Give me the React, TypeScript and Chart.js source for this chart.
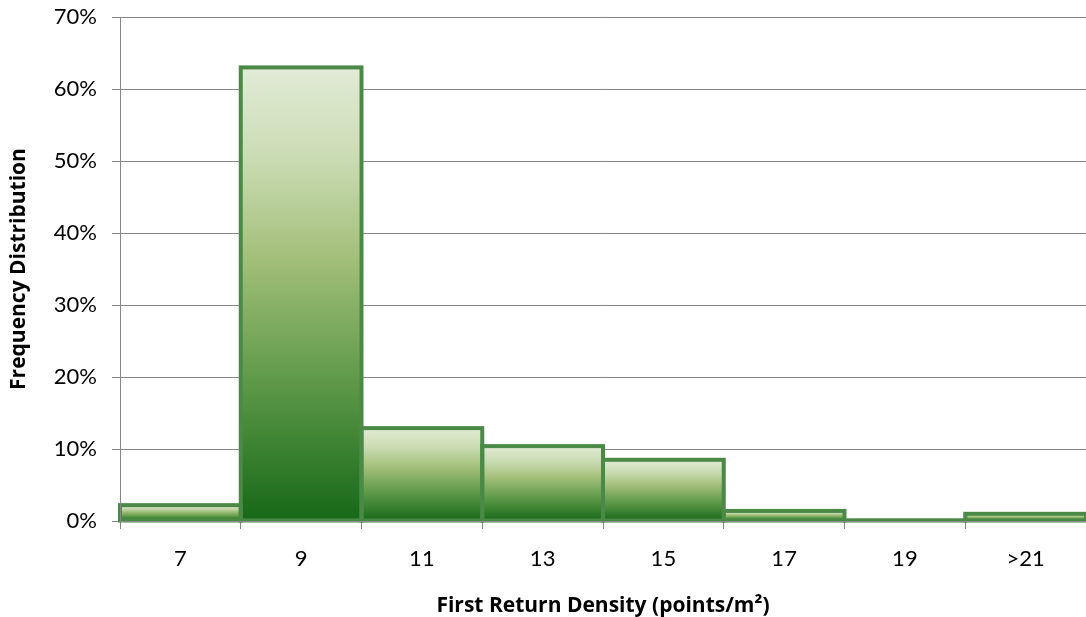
import React, { useEffect, useRef } from 'react';
import { Chart, registerables } from 'chart.js';

Chart.register(...registerables);

const categories: string[] = ['7', '9', '11', '13', '15', '17', '19', '>21'];
const frequencies: number[] = [2.2, 63, 12.9, 10.4, 8.5, 1.4, 0.1, 1.0];
const yMin = 0;
const yMax = 70;
const yStep = 10;
const xTitle = 'First Return Density (points/m²)';
const yTitle = 'Frequency Distribution';

const BORDER = '#4a8a46';
const GRID = '#868686';

const outlinePlugin = {
  id: 'barOutline',
  afterDatasetsDraw(chart: any) {
    const meta = chart.getDatasetMeta(0);
    const ctx = chart.ctx as CanvasRenderingContext2D;
    ctx.save();
    ctx.strokeStyle = BORDER;
    ctx.lineWidth = 4;
    ctx.lineJoin = 'miter';
    meta.data.forEach((el: any) => {
      const { x, y, base, width } = el.getProps(['x', 'y', 'base', 'width'], true);
      ctx.strokeRect(x - width / 2, y, width, base - y);
    });
    ctx.restore();
  },
};

export default function App() {
  const ref = useRef<HTMLCanvasElement | null>(null);

  useEffect(() => {
    if (!ref.current) return;
    const chart = new Chart(ref.current, {
      type: 'bar',
      data: {
        labels: categories,
        datasets: [
          {
            data: frequencies,
            borderWidth: 0,
            barPercentage: 1,
            categoryPercentage: 1,
            backgroundColor: (c: any) => {
              const ch = c.chart;
              const ys = ch.scales && ch.scales.y;
              if (c.type !== 'data' || !ys) return '#8ab060';
              const top = ys.getPixelForValue(c.raw as number);
              const base = ys.getPixelForValue(0);
              if (!isFinite(top) || !isFinite(base)) return '#8ab060';
              const g = ch.ctx.createLinearGradient(0, top, 0, Math.max(base, top + 1));
              g.addColorStop(0, '#e2ebd6');
              g.addColorStop(0.2, '#cadcb3');
              g.addColorStop(0.42, '#a3bf7a');
              g.addColorStop(0.7, '#5c9848');
              g.addColorStop(1, '#166818');
              return g;
            },
          },
        ],
      },
      options: {
        responsive: false,
        animation: false,
        devicePixelRatio: 1,
        layout: { padding: { top: 17, right: 0, left: 0, bottom: 0 } },
        plugins: {
          legend: { display: false },
          tooltip: { enabled: false },
        },
        scales: {
          x: {
            offset: true,
            grid: {
              display: true,
              offset: true,
              drawOnChartArea: false,
              drawTicks: true,
              tickLength: 8,
              color: GRID,
              lineWidth: 1,
            },
            border: { display: true, color: GRID, width: 1, z: 1 },
            ticks: {
              color: '#000',
              padding: 17,
              font: { family: 'Lato', size: 22 },
              maxRotation: 0,
            },
            title: {
              display: true,
              text: xTitle,
              color: '#000',
              font: { family: 'Open Sans', size: 21, weight: 'bold', lineHeight: 1 },
              padding: { top: 4, bottom: 0 },
            },
            afterFit: (s: any) => {
              s.height = 96;
              s.paddingLeft = 0;
              s.paddingRight = 0;
            },
          },
          y: {
            min: yMin,
            max: yMax,
            grid: {
              color: GRID,
              lineWidth: 1,
              tickLength: 8,
              drawTicks: true,
            },
            border: { display: true, color: GRID, width: 1, z: 1 },
            ticks: {
              stepSize: yStep,
              color: '#000',
              padding: 15,
              font: { family: 'Lato', size: 22 },
              callback: (v: any) => `${v}%`,
            },
            title: {
              display: true,
              text: yTitle,
              color: '#000',
              font: { family: 'Open Sans', size: 21, weight: 'bold', lineHeight: 1 },
              padding: { top: 9, bottom: 0 },
            },
            afterFit: (s: any) => {
              s.width = 120;
              s.paddingTop = 0;
              s.paddingBottom = 0;
            },
          },
        },
      },
      plugins: [outlinePlugin],
    });
    return () => chart.destroy();
  }, []);

  return (
    <div style={{ position: 'fixed', left: 0, top: 0, width: 1086, height: 617, background: '#fff' }}>
      <canvas ref={ref} width={1086} height={617} style={{ width: 1086, height: 617, display: 'block' }} />
    </div>
  );
}
